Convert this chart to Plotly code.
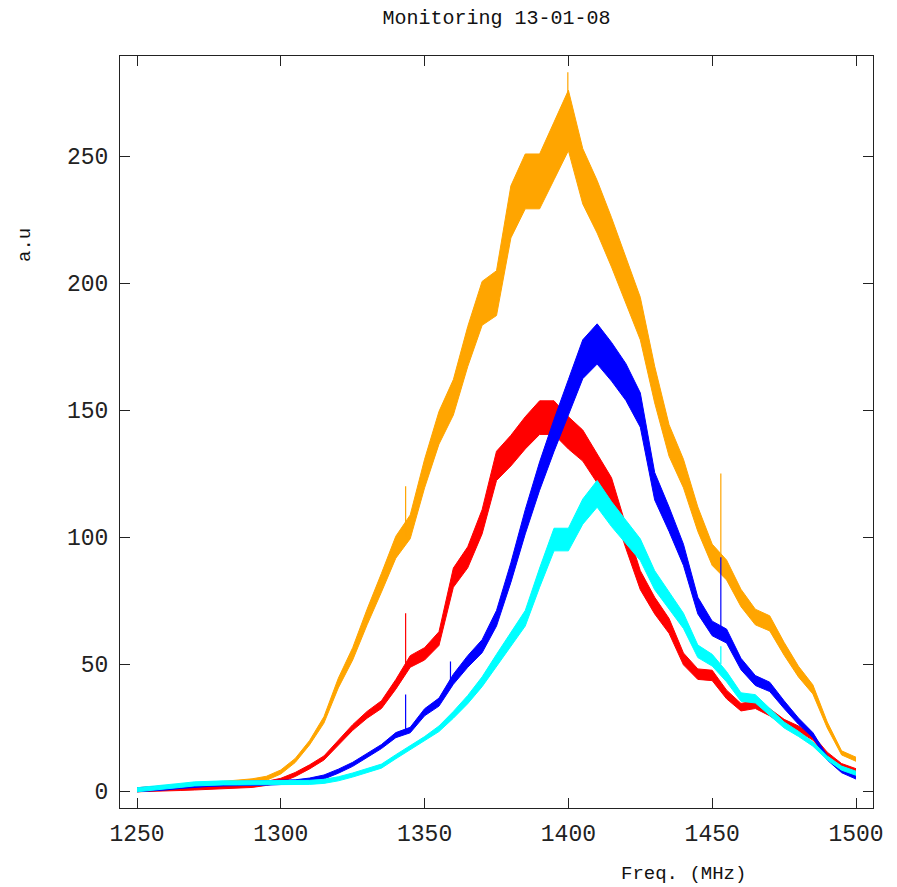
import plotly.graph_objects as go

# ---- data ----
freq = [1250, 1255, 1260, 1265, 1270, 1275, 1280, 1285, 1290, 1295,
        1300, 1305, 1310, 1315, 1320, 1325, 1330, 1335, 1340, 1345,
        1350, 1355, 1360, 1365, 1370, 1375, 1380, 1385, 1390, 1395,
        1400, 1405, 1410, 1415, 1420, 1425, 1430, 1435, 1440, 1445,
        1450, 1455, 1460, 1465, 1470, 1475, 1480, 1485, 1490, 1495, 1500]

orange_vals = [0.5, 0.8, 1.2, 1.6, 2.0, 2.5, 3.0, 3.5, 4.0, 5.0,
               7.5, 12, 19, 28, 42.5, 54, 68.5, 82, 96, 104,
               125, 143, 155, 175, 192, 196, 228, 240, 240, 252,
               264, 242, 230, 216, 201, 186, 160, 138, 125, 107,
               93, 87, 76, 68.5, 66, 56, 47, 40, 26, 15, 12.5]

red_vals = [0.5, 0.6, 0.8, 1.0, 1.2, 1.4, 1.6, 1.8, 2.2, 3.0,
            4.2, 6.5, 9.5, 13, 19, 25, 30, 34, 42, 51,
            54, 60, 84, 92, 106, 128, 134, 141, 147, 147,
            141, 136, 127, 118, 100, 83, 73, 65, 52, 46,
            45.5, 38, 33, 34, 31, 27, 24.5, 21, 14.5, 10, 8]

blue_vals = [0.5, 0.8, 1.2, 1.8, 2.3, 2.6, 2.8, 3.0, 3.0, 3.1,
             3.3, 3.6, 4.3, 5.5, 7.8, 10.5, 14, 17.5, 22, 24,
             31, 35, 44, 51, 57, 68, 86, 106, 124, 140,
             155, 170, 176, 169, 161, 150, 120, 107, 93, 73,
             64, 61, 50, 43.5, 41, 34, 27.5, 22, 13, 8, 5.5]

cyan_vals = [0.5, 1.0, 1.5, 2.2, 2.8, 3.1, 3.2, 3.2, 3.2, 3.2,
             3.2, 3.3, 3.4, 3.8, 4.8, 6.3, 8, 9.8, 13.5, 17,
             20.5, 24.5, 30, 36, 43, 51.5, 60, 68, 84, 99,
             99, 110, 117, 109, 102, 95, 83, 75, 67, 55,
             51.5, 45, 37, 36.3, 31, 26, 22.5, 18.5, 13, 9, 7]

# narrow interference spikes: (frequency, base, top)
orange_spikes = [(1343.4, 100, 120), (1399.8, 262, 283), (1453.0, 88, 125)]
red_spikes = [(1343.4, 48, 70)]
blue_spikes = [(1343.4, 23, 38), (1359.0, 43, 51), (1453.0, 62, 92)]
cyan_spikes = [(1453.0, 50, 57)]

x_ticks = [1250, 1300, 1350, 1400, 1450, 1500]
y_ticks = [0, 50, 100, 150, 200, 250]

# ---- style ----
NOISE_FRACTION = 0.045   # half-width of the noise ribbon, relative
NOISE_MIN = 0.8
MONO = "Liberation Mono, Courier New, monospace"

# the page body has an 8 px margin, so the figure is 8 px smaller
FIG_W, FIG_H = 889, 879
OFF = 8

series = [
    ("orange", "#FFA500", orange_vals, orange_spikes),
    ("red", "#FF0000", red_vals, red_spikes),
    ("blue", "#0000FF", blue_vals, blue_spikes),
    ("cyan", "#00FFFF", cyan_vals, cyan_spikes),
]

fig = go.Figure()
for name, color, vals, spikes in series:
    half = [max(v * NOISE_FRACTION, NOISE_MIN) for v in vals]
    lo = [v - h for v, h in zip(vals, half)]
    hi = [v + h for v, h in zip(vals, half)]
    fig.add_trace(go.Scatter(x=freq, y=lo, mode="lines",
                             line=dict(color=color, width=1),
                             showlegend=False, hoverinfo="skip"))
    fig.add_trace(go.Scatter(x=freq, y=hi, mode="lines", fill="tonexty",
                             fillcolor=color,
                             line=dict(color=color, width=1),
                             showlegend=False, name=name))
    sx, sy = [], []
    for f, b, t in spikes:
        sx += [f, f, None]
        sy += [b, t, None]
    fig.add_trace(go.Scatter(x=sx, y=sy, mode="lines",
                             line=dict(color=color, width=1.2),
                             showlegend=False, hoverinfo="skip"))

axis_common = dict(
    showgrid=False, zeroline=False,
    showline=True, linecolor="#222222", linewidth=1, mirror="ticks",
    ticks="inside", ticklen=10, tickcolor="#222222", tickwidth=1,
    tickfont=dict(family=MONO, size=23, color="#222222"),
)

# plot area in window pixels: x 120..873, y 56..808
L, R, T, B = 120, 873, 56, 808
fig.update_layout(
    width=FIG_W, height=FIG_H,
    margin=dict(l=L - OFF, r=FIG_W + OFF - R, t=T - OFF, b=FIG_H + OFF - B),
    paper_bgcolor="white", plot_bgcolor="white",
    title=dict(text="Monitoring 13-01-08", x=0.5, xref="paper",
               y=1 - 1.5 / FIG_H, yref="container", yanchor="top",
               xanchor="center",
               font=dict(family=MONO, size=20, color="#111111")),
    xaxis=dict(range=[1244.09, 1505.91], tickvals=x_ticks,
               ticklabelstandoff=4, **axis_common),
    yaxis=dict(range=[-6.69, 289.37], tickvals=y_ticks,
               ticklabelstandoff=6, **axis_common),
    annotations=[
        dict(text="Freq. (MHz)", xref="paper", yref="paper",
             x=(683 - L) / (R - L), y=-(874 - B) / (B - T),
             xanchor="center", yanchor="middle", showarrow=False,
             font=dict(family=MONO, size=19, color="#111111")),
        dict(text="a.u", xref="paper", yref="paper",
             x=-(L - 25) / (R - L), y=(B - 245) / (B - T),
             xanchor="center", yanchor="middle", showarrow=False,
             textangle=-90,
             font=dict(family=MONO, size=19, color="#111111")),
    ],
)

fig.write_html("out.html")
